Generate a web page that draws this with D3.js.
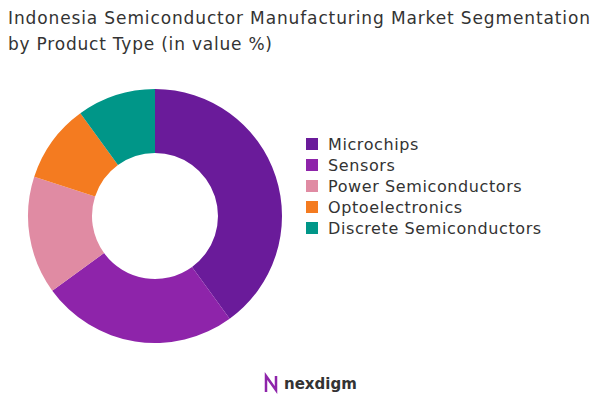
<!DOCTYPE html>
<html lang="en">
<head>
<meta charset="UTF-8">
<script src="https://d3js.org/d3.v7.min.js"></script>
<style>
  body { margin: 0; background: #fff; }
  text { font-family: "DejaVu Sans", sans-serif; }
</style>
</head>
<body>
<svg width="609" height="414"></svg>
<script>
const categories = ['Microchips', 'Sensors', 'Power Semiconductors', 'Optoelectronics', 'Discrete Semiconductors'];
const values = [40, 25, 15, 10, 10];
const colors = ['#6a1b9a', '#8e24aa', '#e08ba3', '#f47b20', '#009688'];

const svg = d3.select('svg');

svg.append('text').attr('x', 8).attr('y', 24).attr('font-size', 17).attr('fill', '#333')
  .attr('textLength', 582).text('Indonesia Semiconductor Manufacturing Market Segmentation');
svg.append('text').attr('x', 8).attr('y', 50).attr('font-size', 17).attr('fill', '#333')
  .attr('textLength', 264).text('by Product Type (in value %)');

const color = d3.scaleOrdinal(categories, colors);
const pie = d3.pie().sort(null).value(d => d.value);
const arc = d3.arc().innerRadius(63).outerRadius(127);
const data = categories.map((c, i) => ({ name: c, value: values[i] }));

const g = svg.append('g').attr('transform', 'translate(155,216)');
g.selectAll('path').data(pie(data)).enter().append('path')
  .attr('d', arc).attr('fill', d => color(d.data.name));

const legend = svg.selectAll('.legend').data(categories).enter().append('g')
  .attr('transform', (_, i) => `translate(306, ${138 + i * 21})`);
legend.append('rect').attr('width', 12).attr('height', 12).attr('fill', d => color(d));
legend.append('text').attr('x', 22).attr('y', 12).attr('font-size', 16).attr('letter-spacing', 0.6)
  .attr('fill', '#333').text(d => d);

// logo
const logo = svg.append('g').attr('transform', 'translate(266,384)');
logo.append('path').attr('d', 'M0,8 L0,-8 L10,6 L10,-8').attr('fill', 'none')
  .attr('stroke', '#8e24aa').attr('stroke-width', 2.5);
logo.append('text').attr('x', 18).attr('y', 5).attr('font-size', 15).attr('font-weight', 'bold')
  .attr('fill', '#333').text('nexdigm');
</script>
</body>
</html>
